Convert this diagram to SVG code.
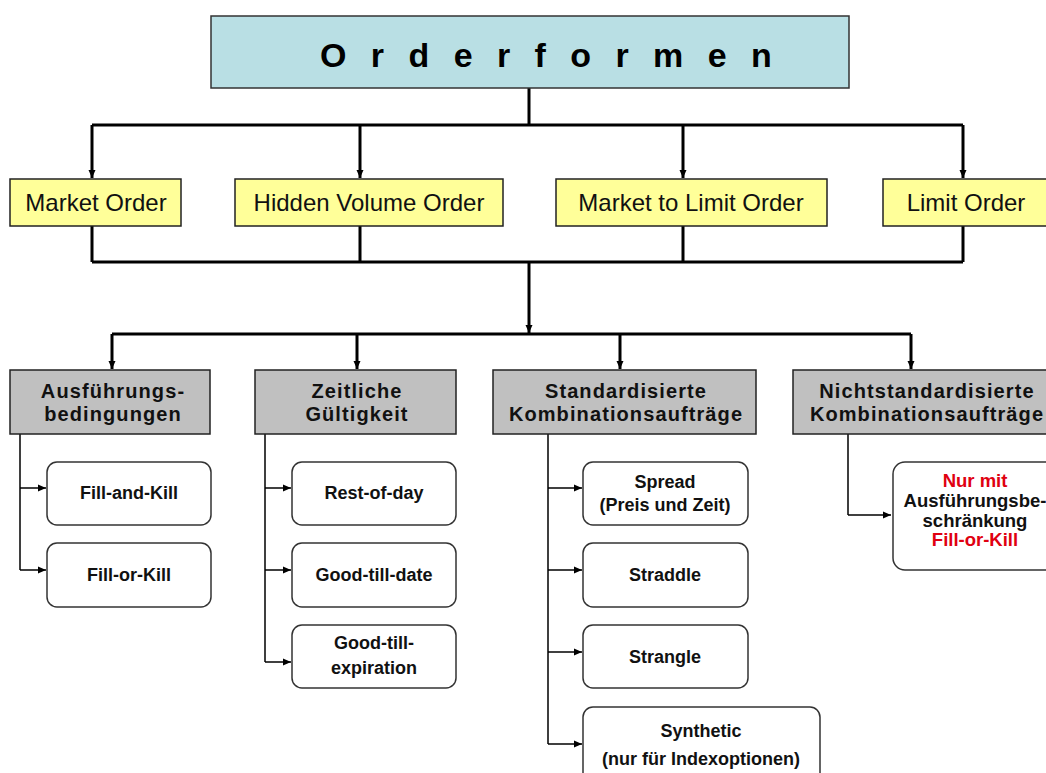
<svg xmlns="http://www.w3.org/2000/svg" width="1046" height="773" viewBox="0 0 1046 773">
<defs>
<marker id="ah" markerUnits="userSpaceOnUse" markerWidth="9" markerHeight="8" refX="8" refY="4" orient="auto">
<path d="M0,0.5 L8,4 L0,7.5 z" fill="#000"/>
</marker>
<style>
.title{fill:#b9dfe4;stroke:#333;stroke-width:1.5}
.yel{fill:#ffff99;stroke:#222;stroke-width:1.5}
.gray{fill:#c0c0c0;stroke:#222;stroke-width:1.5}
.wht{fill:#fff;stroke:#333;stroke-width:1.5}
.tt{font-family:"Liberation Sans",Arial,sans-serif;font-weight:bold;font-size:34px;fill:#000}
.yt{font-family:"Liberation Sans",Arial,sans-serif;font-size:24px;fill:#111;text-anchor:middle}
.ht{font-family:"Liberation Sans",Arial,sans-serif;font-weight:bold;font-size:20px;letter-spacing:1.1px;fill:#111;text-anchor:middle}
.bt{font-family:"Liberation Sans",Arial,sans-serif;font-weight:bold;font-size:18px;fill:#111;text-anchor:middle}
.bt4{font-family:"Liberation Sans",Arial,sans-serif;font-weight:bold;font-size:18.5px;fill:#111;text-anchor:middle}
.red{fill:#e00010}
.thick{fill:none;stroke:#000;stroke-width:3}
.thin{fill:none;stroke:#000;stroke-width:1.5}
</style>
</defs>
<rect width="1046" height="773" fill="#fff"/>

<g id="connectors">
<path class="thick" d="M529,88 V125 M92,125 H963"/>
<path class="thick" d="M92,125 V178" marker-end="url(#ah)"/>
<path class="thick" d="M360,125 V178" marker-end="url(#ah)"/>
<path class="thick" d="M683,125 V178" marker-end="url(#ah)"/>
<path class="thick" d="M963,125 V178" marker-end="url(#ah)"/>
<path class="thick" d="M92,226 V262 M360,226 V262 M683,226 V262 M963,226 V262 M92,262 H963"/>
<path class="thick" d="M529,262 V333" marker-end="url(#ah)"/>
<path class="thick" d="M112,334 H911"/>
<path class="thick" d="M112,334 V369" marker-end="url(#ah)"/>
<path class="thick" d="M357,334 V369" marker-end="url(#ah)"/>
<path class="thick" d="M620,334 V369" marker-end="url(#ah)"/>
<path class="thick" d="M911,334 V369" marker-end="url(#ah)"/>
<path class="thin" d="M20,434 V570 M265,434 V662 M548,434 V744 M848,434 V515"/>
<path class="thin" d="M20,488 H46" marker-end="url(#ah)"/>
<path class="thin" d="M20,570 H46" marker-end="url(#ah)"/>
<path class="thin" d="M265,488 H291" marker-end="url(#ah)"/>
<path class="thin" d="M265,570 H291" marker-end="url(#ah)"/>
<path class="thin" d="M265,662 H291" marker-end="url(#ah)"/>
<path class="thin" d="M548,488 H582" marker-end="url(#ah)"/>
<path class="thin" d="M548,570 H582" marker-end="url(#ah)"/>
<path class="thin" d="M548,652 H582" marker-end="url(#ah)"/>
<path class="thin" d="M548,744 H582" marker-end="url(#ah)"/>
<path class="thin" d="M848,515 H891" marker-end="url(#ah)"/>
</g>

<g id="title">
<rect class="title" x="211" y="16" width="638" height="72"/>
<text class="tt" x="320" y="67" letter-spacing="24.4">Orderformen</text>
</g>

<g id="market-order">
<rect class="yel" x="10" y="179" width="171" height="47"/>
<text class="yt" x="96" y="211">Market Order</text>
</g>
<g id="hidden-volume-order">
<rect class="yel" x="235" y="179" width="268" height="47"/>
<text class="yt" x="369" y="211">Hidden Volume Order</text>
</g>
<g id="market-to-limit-order">
<rect class="yel" x="556" y="179" width="271" height="47"/>
<text class="yt" x="691" y="211">Market to Limit Order</text>
</g>
<g id="limit-order">
<rect class="yel" x="883" y="179" width="170" height="47"/>
<text class="yt" x="966" y="211">Limit Order</text>
</g>

<g id="ausfuehrungsbedingungen">
<rect class="gray" x="10" y="370" width="200" height="64"/>
<text class="ht" x="113" y="398">Ausführungs-</text>
<text class="ht" x="113" y="421">bedingungen</text>
</g>
<g id="zeitliche-gueltigkeit">
<rect class="gray" x="255" y="370" width="201" height="64"/>
<text class="ht" x="357" y="398">Zeitliche</text>
<text class="ht" x="357" y="421">Gültigkeit</text>
</g>
<g id="standardisierte">
<rect class="gray" x="493" y="370" width="263" height="64"/>
<text class="ht" x="626" y="398">Standardisierte</text>
<text class="ht" x="626" y="421">Kombinationsaufträge</text>
</g>
<g id="nichtstandardisierte">
<rect class="gray" x="793" y="370" width="265" height="64"/>
<text class="ht" x="927" y="398">Nichtstandardisierte</text>
<text class="ht" x="927" y="421">Kombinationsaufträge</text>
</g>

<g id="fill-and-kill">
<rect class="wht" x="47" y="462" width="164" height="63" rx="10"/>
<text class="bt" x="129" y="499">Fill-and-Kill</text>
</g>
<g id="fill-or-kill">
<rect class="wht" x="47" y="543" width="164" height="64" rx="10"/>
<text class="bt" x="129" y="581">Fill-or-Kill</text>
</g>

<g id="rest-of-day">
<rect class="wht" x="292" y="462" width="164" height="63" rx="10"/>
<text class="bt" x="374" y="499">Rest-of-day</text>
</g>
<g id="good-till-date">
<rect class="wht" x="292" y="543" width="164" height="64" rx="10"/>
<text class="bt" x="374" y="581">Good-till-date</text>
</g>
<g id="good-till-expiration">
<rect class="wht" x="292" y="625" width="164" height="63" rx="10"/>
<text class="bt" x="374" y="649">Good-till-</text>
<text class="bt" x="374" y="674">expiration</text>
</g>

<g id="spread">
<rect class="wht" x="583" y="462" width="165" height="63" rx="10"/>
<text class="bt" x="665" y="488">Spread</text>
<text class="bt" x="665" y="511">(Preis und Zeit)</text>
</g>
<g id="straddle">
<rect class="wht" x="583" y="543" width="165" height="64" rx="10"/>
<text class="bt" x="665" y="581">Straddle</text>
</g>
<g id="strangle">
<rect class="wht" x="583" y="625" width="165" height="63" rx="10"/>
<text class="bt" x="665" y="663">Strangle</text>
</g>
<g id="synthetic">
<rect class="wht" x="583" y="707" width="237" height="80" rx="10"/>
<text class="bt" x="701" y="737">Synthetic</text>
<text class="bt" x="701" y="765">(nur für Indexoptionen)</text>
</g>

<g id="nur-mit">
<rect class="wht" x="893" y="462" width="165" height="108" rx="12"/>
<text class="bt4 red" x="975" y="487">Nur mit</text>
<text class="bt4" x="975" y="507">Ausführungsbe-</text>
<text class="bt4" x="975" y="527">schränkung</text>
<text class="bt4 red" x="975" y="546">Fill-or-Kill</text>
</g>
</svg>
